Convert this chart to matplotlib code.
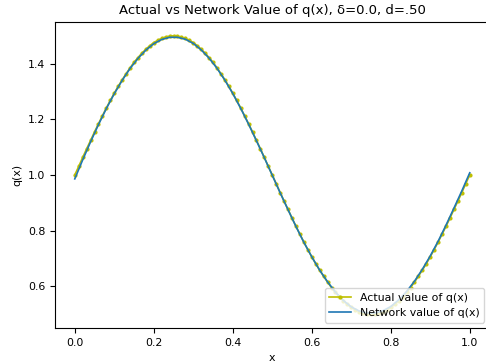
import numpy as np
import matplotlib
matplotlib.use("Agg")
import matplotlib.pyplot as plt

# x grid: 101 samples on [0, 1]
x_actual = np.linspace(0, 1, 101)
q_actual = [
    1.000, 1.031, 1.063, 1.094, 1.124, 1.155, 1.184, 1.213, 1.241, 1.268,
    1.294, 1.319, 1.342, 1.364, 1.385, 1.405, 1.422, 1.438, 1.452, 1.465,
    1.476, 1.484, 1.491, 1.496, 1.499, 1.500, 1.499, 1.496, 1.491, 1.484,
    1.476, 1.465, 1.452, 1.438, 1.422, 1.405, 1.385, 1.364, 1.342, 1.319,
    1.294, 1.268, 1.241, 1.213, 1.184, 1.155, 1.124, 1.094, 1.063, 1.031,
    1.000, 0.969, 0.937, 0.906, 0.876, 0.845, 0.816, 0.787, 0.759, 0.732,
    0.706, 0.681, 0.658, 0.636, 0.615, 0.595, 0.578, 0.562, 0.548, 0.535,
    0.524, 0.516, 0.509, 0.504, 0.501, 0.500, 0.501, 0.504, 0.509, 0.516,
    0.524, 0.535, 0.548, 0.562, 0.578, 0.595, 0.615, 0.636, 0.658, 0.681,
    0.706, 0.732, 0.759, 0.787, 0.816, 0.845, 0.876, 0.906, 0.937, 0.969,
    1.000,
]

# network output, 51 samples on [0, 1]
x_network = np.linspace(0, 1, 51)
q_network = [
    0.986, 1.054, 1.119, 1.181, 1.239, 1.292, 1.340, 1.383, 1.419, 1.449,
    1.472, 1.487, 1.495, 1.495, 1.488, 1.473, 1.450, 1.420, 1.384, 1.341,
    1.293, 1.240, 1.183, 1.123, 1.062, 0.999, 0.936, 0.875, 0.815, 0.758,
    0.706, 0.658, 0.616, 0.579, 0.549, 0.526, 0.511, 0.504, 0.504, 0.512,
    0.527, 0.551, 0.581, 0.618, 0.661, 0.709, 0.762, 0.820, 0.881, 0.943,
    1.008,
]

fig = plt.figure(figsize=(4.86, 3.64), dpi=100)
# axes run slightly past the right edge, as in the cropped original
ax = fig.add_axes([0.1132, 0.0989, 0.894, 0.8407])

ax.plot(x_actual, q_actual, '.-', color='y', markersize=4, linewidth=1.2,
        label='Actual value of q(x)')
ax.plot(x_network, q_network, '-', color='C0', linewidth=1.2,
        label='Network value of q(x)')

ax.set_title('Actual vs Network Value of q(x), δ=0.0, d=.50', fontsize=9.5)
ax.set_xlabel('x', fontsize=7.9)
ax.set_ylabel('q(x)', fontsize=7.9)
ax.tick_params(labelsize=7.9)
ax.set_yticks([0.6, 0.8, 1.0, 1.2, 1.4])
ax.legend(loc='lower right', fontsize=7.9)

fig.savefig('out.png', dpi=100)
